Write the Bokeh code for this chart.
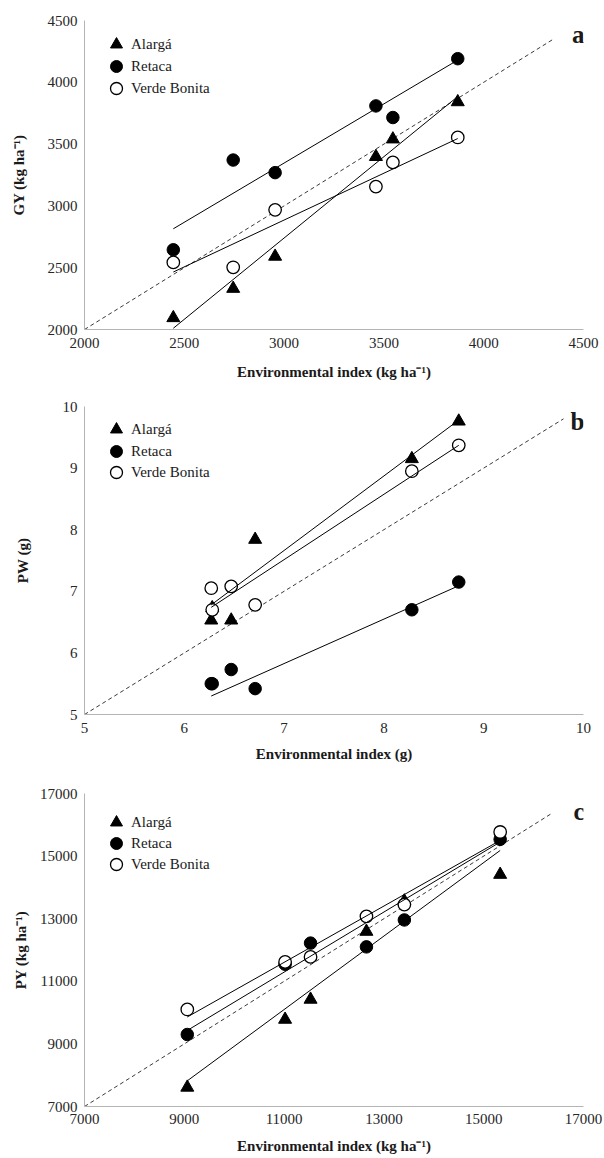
import numpy as np
from bokeh.plotting import figure
from bokeh.models import Range1d, FixedTicker, Label, Legend, LegendItem
from bokeh.layouts import column
from bokeh.embed import file_html
from bokeh.resources import INLINE

genotypes = ["Alargá", "Retaca", "Verde Bonita"]

# ---- panel a: grain yield ----
ei_gy = [2445, 2745, 2955, 3460, 3545, 3870]
gy_alarga = [2094, 2331, 2591, 3398, 3540, 3841]
gy_retaca = [2645, 3371, 3269, 3809, 3715, 4191]
gy_verde = [2543, 2503, 2968, 3156, 3352, 3554]
gy_fit_start = [2010, 2815, 2465]
gy_fit_end = [3885, 4180, 3545]
gy_ticks = [2000, 2500, 3000, 3500, 4000, 4500]
gy_identity = [2000, 4345]

# ---- panel b: pod weight ----
ei_pw = [6.27, 6.28, 6.47, 6.71, 8.28, 8.75]
pw_alarga = [6.53, 6.73, 6.53, 7.84, 9.15, 9.76]
pw_retaca = [5.50, 5.50, 5.73, 5.42, 6.70, 7.15]
pw_verde = [7.05, 6.70, 7.08, 6.78, 8.95, 9.37]
pw_fit_start = [6.78, 5.30, 6.74]
pw_fit_end = [9.78, 7.09, 9.37]
pw_ticks = [5, 6, 7, 8, 9, 10]
pw_identity = [5, 9.8]

# ---- panel c: pod yield ----
ei_py = [9060, 11020, 11530, 12650, 13410, 15330]
py_alarga = [7610, 9780, 10420, 12590, 13560, 14410]
py_retaca = [9300, 11545, 12220, 12100, 12960, 15535]
py_verde = [10100, 11620, 11780, 13075, 13450, 15770]
py_fit_start = [7820, 9430, 9860]
py_fit_end = [15180, 15450, 15500]
py_ticks = [7000, 9000, 11000, 13000, 15000, 17000]
py_identity = [7000, 16350]

FONT = "Liberation Serif"
W = 604
LEFT = 84
FRAME_W = 499


def make_panel(ei, ys, fit_start, fit_end, ticks, identity, ytitle, xtitle,
               letter, height, top, frame_h, bottom, ylab_standoff,
               xlab_standoff, xmaj_standoff, legend_rows, letter_off):
    p = figure(width=W, height=height, output_backend="svg",
               toolbar_location=None,
               x_range=Range1d(ticks[0], ticks[-1]),
               y_range=Range1d(ticks[0], ticks[-1]),
               min_border_left=LEFT, min_border_right=W - LEFT - FRAME_W,
               min_border_top=top, min_border_bottom=bottom)
    p.outline_line_color = None
    p.grid.visible = False
    p.background_fill_color = "white"
    p.border_fill_color = "white"

    for ax in (p.xaxis[0], p.yaxis[0]):
        ax.ticker = FixedTicker(ticks=ticks)
        ax.axis_line_color = "#b4b4b4"
        ax.axis_line_width = 1
        ax.major_tick_line_color = None
        ax.minor_tick_line_color = None
        ax.major_tick_out = 0
        ax.major_tick_in = 0
        ax.major_label_text_font = FONT
        ax.major_label_text_font_size = "15px"
        ax.major_label_text_color = "#262626"
        ax.axis_label_text_font = FONT
        ax.axis_label_text_font_size = "15px"
        ax.axis_label_text_font_style = "bold"
        ax.axis_label_text_color = "#1a1a1a"
    p.xaxis.axis_label = xtitle
    p.yaxis.axis_label = ytitle
    p.yaxis.major_label_standoff = 7
    p.xaxis.major_label_standoff = xmaj_standoff
    p.yaxis.axis_label_standoff = ylab_standoff
    p.xaxis.axis_label_standoff = xlab_standoff

    # 1:1 reference line
    p.line(identity, identity, line_color="#3a3a3a", line_width=1,
           line_dash="4 3")

    styles = [
        dict(marker="triangle", size=13, fill_color="black", line_color="black"),
        dict(marker="circle", size=12.5, fill_color="black", line_color="black"),
        dict(marker="circle", size=12.5, fill_color="white", line_color="black",
             line_width=1.3),
    ]
    renderers = []
    for y, st in zip(ys, styles):
        renderers.append(p.scatter(ei, y, **st))

    x0, x1 = min(ei), max(ei)
    for s0, s1 in zip(fit_start, fit_end):
        p.line([x0, x1], [s0, s1], line_color="black", line_width=1)

    for name, r, row in zip(genotypes, renderers, legend_rows):
        lg = Legend(items=[LegendItem(label=name, renderers=[r])],
                    location=(17, frame_h - row - 15),
                    glyph_width=30, glyph_height=30, label_height=30,
                    padding=0, margin=0, spacing=0, label_standoff=0,
                    border_line_color=None, background_fill_alpha=0,
                    label_text_font=FONT, label_text_font_size="15px",
                    label_text_color="#1a1a1a")
        p.add_layout(lg, "center")

    p.add_layout(Label(x=FRAME_W + 1, y=frame_h - letter_off,
                       x_units="screen", y_units="screen", text=letter,
                       text_align="right", text_baseline="alphabetic",
                       text_font=FONT, text_font_style="bold",
                       text_font_size="25px", text_color="#1a1a1a"))
    return p


pa = make_panel(ei_gy, [gy_alarga, gy_retaca, gy_verde], gy_fit_start,
                gy_fit_end, gy_ticks, gy_identity, "GY (kg ha⁻¹)",
                "Environmental index (kg ha⁻¹)", "a",
                height=386, top=20, frame_h=309, bottom=57,
                ylab_standoff=18, xlab_standoff=13, xmaj_standoff=8,
                legend_rows=[24, 46, 68], letter_off=14)
pb = make_panel(ei_pw, [pw_alarga, pw_retaca, pw_verde], pw_fit_start,
                pw_fit_end, pw_ticks, pw_identity, "PW (g)",
                "Environmental index (g)", "b",
                height=381, top=20, frame_h=308, bottom=53,
                ylab_standoff=29, xlab_standoff=10, xmaj_standoff=8,
                legend_rows=[23, 45, 66], letter_off=15)
pc = make_panel(ei_py, [py_alarga, py_retaca, py_verde], py_fit_start,
                py_fit_end, py_ticks, py_identity, "PY (kg ha⁻¹)",
                "Environmental index (kg ha⁻¹)", "c",
                height=391, top=26, frame_h=313, bottom=52,
                ylab_standoff=8, xlab_standoff=11, xmaj_standoff=7,
                legend_rows=[29, 50, 71], letter_off=18)

layout = column(pa, pb, pc, spacing=0)
open("out.html", "w").write(file_html(layout, INLINE))
